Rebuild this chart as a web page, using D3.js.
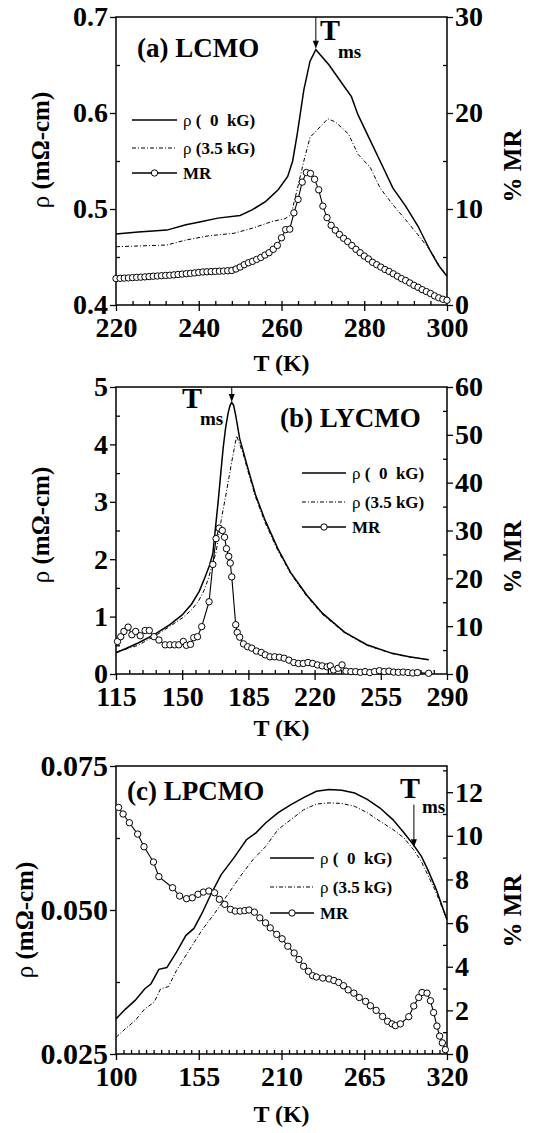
<!DOCTYPE html>
<html lang="en">
<head>
<meta charset="UTF-8">
<title>Resistivity and MR vs T</title>
<script src="https://d3js.org/d3.v7.min.js"></script>
<style>
  body { margin: 0; background: #fff; }
  svg text { font-family: "Liberation Serif", "Times New Roman", serif; font-weight: bold; fill: #000; }
</style>
</head>
<body>
<div id="chart"></div>
<script>
// ---- panel (a) LCMO ----
const aT0 = [220, 225.4, 232.3, 236.9, 240.8, 244.6, 250, 253, 256.2, 259.2, 261.5, 262.7, 263.8, 265.4, 266.9, 268.3, 271.5, 274.6, 276.9, 278.5, 281.5, 284.6, 286.9, 290, 293, 296, 298, 300];
const aRho0 = [0.474, 0.476, 0.478, 0.4835, 0.487, 0.4905, 0.4933, 0.4993, 0.508, 0.520, 0.534, 0.550, 0.578, 0.624, 0.654, 0.666, 0.650, 0.631, 0.617, 0.598, 0.571, 0.543, 0.522, 0.503, 0.482, 0.456, 0.441, 0.430];
const aT35 = [220, 232.3, 236.9, 242.3, 248.5, 253, 257.7, 260.8, 262.3, 263.8, 265.4, 266.9, 268.5, 271.2, 273.1, 276.2, 278.5, 281.5, 283.8, 286.9, 290, 293, 296.2, 298, 300];
const aRho35 = [0.4607, 0.4625, 0.4677, 0.472, 0.4747, 0.480, 0.487, 0.4898, 0.494, 0.5204, 0.550, 0.5747, 0.5817, 0.594, 0.5905, 0.578, 0.557, 0.543, 0.522, 0.5046, 0.4888, 0.473, 0.4554, 0.442, 0.430];
const aTmr = d3.range(220, 301, 1);
const aMR = [2.75, 2.78, 2.8, 2.82, 2.85, 2.88, 2.9, 2.93, 2.96, 3.0, 3.02, 3.05, 3.08, 3.1, 3.14, 3.18, 3.22, 3.26, 3.3, 3.34,
  3.4, 3.44, 3.46, 3.48, 3.5, 3.52, 3.54, 3.57, 3.6, 3.75, 3.95, 4.2, 4.4, 4.55, 4.75, 4.95, 5.2, 5.45, 5.8, 6.2,
  7.0, 7.85, 7.9, 9.6, 11.0, 12.8, 13.8, 13.7, 13.1, 12.0, 10.3, 9.1, 8.3, 7.8, 7.35, 6.95, 6.6, 6.2, 5.8, 5.45,
  5.1, 4.8, 4.45, 4.2, 3.95, 3.7, 3.5, 3.25, 3.0, 2.75, 2.55, 2.3, 2.05, 1.85, 1.6, 1.4, 1.2, 0.95, 0.75, 0.6, 0.5];
const aXTicks = [220, 240, 260, 280, 300];
const aYTicks = [0.4, 0.5, 0.6, 0.7];
const aRTicks = [0, 10, 20, 30];

// ---- panel (b) LYCMO ----
const bT0 = [115, 120, 126.7, 135, 143.5, 150, 155, 159, 162, 164.5, 166.2, 167.6, 169, 170.4, 171.7, 173, 174.3, 175.3, 176.2, 177.2, 178.3, 180.4, 184.6, 188.8, 193.8, 200.6, 207.3, 215.7, 224.1, 235.8, 247.6, 261, 270, 280.3];
const bRho0 = [0.37, 0.44, 0.54, 0.68, 0.86, 1.03, 1.22, 1.44, 1.68, 1.9, 2.1, 2.55, 3.0, 3.5, 3.95, 4.3, 4.55, 4.68, 4.73, 4.68, 4.5, 4.1, 3.6, 3.12, 2.68, 2.18, 1.77, 1.38, 1.06, 0.73, 0.51, 0.36, 0.3, 0.25];
const bT35 = [115, 126.7, 135.1, 143.5, 150.2, 155, 158.6, 161.5, 163.7, 165.9, 167.9, 170.4, 173.7, 176.2, 178.8, 180.4, 182.1, 184.6, 188.8, 193.8, 200.6, 207.3, 215.7, 224.1, 235.8, 247.6, 261, 270, 280.3];
const bRho35 = [0.38, 0.5, 0.655, 0.83, 0.98, 1.12, 1.27, 1.45, 1.65, 1.9, 2.12, 2.64, 3.23, 3.7, 4.15, 4.0, 3.85, 3.55, 3.08, 2.64, 2.15, 1.75, 1.36, 1.04, 0.72, 0.5, 0.355, 0.295, 0.25];
const bTmr = [115.8, 117.5, 119.2, 121.4, 123.4, 125.4, 127.8, 130.4, 132.6, 135.1, 137.7, 141, 143.5, 146, 148.2, 150.6, 152.2, 154.4, 156.1, 158.1, 160.3, 164.2, 166.2, 167.9, 169.5, 171.2, 172.4, 173.4, 174.6, 175.4, 176.2, 178.3, 179.1, 180.4, 182.4, 184.6, 186.8, 189.2, 191.8, 193.9, 196.4, 198.9, 201.4, 203.9, 206.4, 209, 211.5, 214, 216.5, 219, 221.5, 224, 226.6, 228.3, 230, 232.4, 234.5, 236.6, 239.2, 241.7, 244.2, 246.7, 249.2, 251.7, 254.3, 256.8, 259.3, 261.8, 264.3, 266.8, 269.4, 271.9, 274.4, 280.3];
const bMR = [6.8, 7.8, 8.9, 9.8, 8.2, 8.9, 8.0, 9.1, 9.1, 7.8, 7.1, 6.1, 6.1, 6.1, 6.1, 6.8, 6.0, 6.2, 7.6, 7.8, 9.9, 15.1, 22.9, 28.3, 30.5, 30.0, 28.6, 26.2, 24.6, 23.2, 20.3, 10.3, 8.7, 7.7, 6.3, 5.7, 5.4, 4.8, 4.5, 4.0, 3.6, 3.6, 3.5, 3.3, 2.9, 2.4, 2.2, 2.2, 2.4, 2.2, 1.9, 1.7, 1.5, 1.7, 0.84, 1.2, 1.9, 0.6, 0.5, 0.5, 0.35, 0.5, 0.3, 0.5, 0.7, 0.5, 0.6, 0.4, 0.35, 0.4, 0.3, 0.2, 0.3, 0.15];
const bXTicks = [115, 150, 185, 220, 255, 290];
const bYTicks = [0, 1, 2, 3, 4, 5];
const bRTicks = [0, 10, 20, 30, 40, 50, 60];

// ---- panel (c) LPCMO ----
const cT0 = [100, 106.3, 112.7, 119, 123.3, 128.5, 133.8, 140.2, 146.5, 151.8, 157.1, 163.4, 169.8, 178.2, 186.7, 193, 199.4, 207.8, 216.3, 224.7, 233.2, 241.6, 250.1, 258.6, 267, 275.5, 284, 291.4, 297.7, 303, 307.2, 312.5, 320];
const cRho0 = [0.0311, 0.0328, 0.0343, 0.0363, 0.0372, 0.0397, 0.0400, 0.0427, 0.0456, 0.0468, 0.0494, 0.0529, 0.0561, 0.0590, 0.0622, 0.0634, 0.0651, 0.0669, 0.0683, 0.0695, 0.0706, 0.0709, 0.0708, 0.0703, 0.0692, 0.0677, 0.0657, 0.0634, 0.0613, 0.0593, 0.0570, 0.0538, 0.0483];
const cT35 = [100, 106.3, 112.7, 119, 125.4, 129.6, 134.9, 140.2, 148.6, 157.1, 165.5, 174, 182.5, 190.9, 199.4, 207.8, 216.3, 224.7, 233.2, 241.6, 250.1, 258.6, 267, 275.5, 284, 291.4, 297.7, 303, 307.2, 312.5, 320];
const cRho35 = [0.0279, 0.0294, 0.0308, 0.0328, 0.0340, 0.0363, 0.0367, 0.0395, 0.0430, 0.0465, 0.0494, 0.0526, 0.0558, 0.0587, 0.0610, 0.0640, 0.0657, 0.0674, 0.0684, 0.0686, 0.0685, 0.0680, 0.0669, 0.0654, 0.0640, 0.0625, 0.0605, 0.0584, 0.0561, 0.0532, 0.0483];
const cTmr = [101.7, 104.7, 108.9, 114.4, 118.6, 124.9, 128.5, 137.6, 142.3, 146.9, 150.7, 154.5, 158.1, 161.7, 165.5, 168.7, 172.3, 176.1, 179.3, 182.5, 185.6, 188.4, 192, 195.6, 199.4, 202.5, 206.8, 210.4, 214.2, 218.4, 221.6, 224.7, 227.9, 230.7, 233.2, 237.4, 241.6, 244.8, 248, 251.2, 254.3, 258.1, 261.7, 265.9, 269.1, 272.9, 277.2, 280.5, 283.5, 285.7, 289, 294.6, 297.9, 301.2, 303.4, 306.7, 309, 311.1, 313.3, 315.1, 316.9, 318.9];
const cMR = [11.3, 11.0, 10.6, 10.08, 9.5, 8.8, 8.13, 7.62, 7.24, 7.12, 7.16, 7.32, 7.42, 7.47, 7.39, 7.09, 6.86, 6.63, 6.55, 6.55, 6.57, 6.6, 6.5, 6.24, 6.01, 5.78, 5.48, 5.28, 4.94, 4.63, 4.33, 4.02, 3.79, 3.59, 3.53, 3.48, 3.44, 3.37, 3.28, 3.13, 2.94, 2.79, 2.59, 2.41, 2.21, 2.0, 1.72, 1.5, 1.38, 1.3, 1.38, 1.71, 2.2, 2.59, 2.82, 2.79, 2.44, 1.9, 1.28, 0.82, 0.51, 0.2];
const cXTicks = [100, 155, 210, 265, 320];
const cYTicks = [0.025, 0.050, 0.075];
const cRTicks = [0, 2, 4, 6, 8, 10, 12];

const legendNames = ["(  0  kG)", "(3.5 kG)", "MR"];

const W = 546, H = 1133;
const LEFT = 116, RIGHT = 447;

const svg = d3.select("#chart").append("svg")
  .attr("width", W)
  .attr("height", H);

const panels = [
  {
    top: 17, bottom: 305, label: "(a) LCMO", labelX: 137, labelY: 57,
    xDom: [220, 300], xTicks: aXTicks, xMinor: d3.range(224, 300, 4),
    yDom: [0.4, 0.7], yTicks: aYTicks, yMinor: [0.45, 0.55, 0.65], yFmt: d3.format(".1f"), yFont: 28,
    rDom: [0, 30], rTicks: aRTicks, rMinor: [5, 15, 25],
    T0: aT0, rho0: aRho0, T35: aT35, rho35: aRho35, Tmr: aTmr, mr: aMR,
    legX: 132, legTextX: 183, legY: [120, 148, 173],
    arrow: { T: 268.3, from: 0.7, to: 0.667 }, tX: 320, tY: 40, msX: 338, msY: 58,
    titleY: 371, leftX: 49, leftMid: 150, rightMid: 166
  },
  {
    top: 387, bottom: 674, label: "(b) LYCMO", labelX: 280, labelY: 427,
    xDom: [115, 290], xTicks: bXTicks, xMinor: d3.range(122, 290, 7),
    yDom: [0, 5], yTicks: bYTicks, yMinor: [0.5, 1.5, 2.5, 3.5, 4.5], yFmt: d3.format("d"), yFont: 28,
    rDom: [0, 60], rTicks: bRTicks, rMinor: [5, 15, 25, 35, 45, 55],
    T0: bT0, rho0: bRho0, T35: bT35, rho35: bRho35, Tmr: bTmr, mr: bMR,
    legX: 302, legTextX: 352, legY: [473, 502, 527],
    arrow: { T: 176.2, from: 5, to: 4.74 }, tX: 182, tY: 408, msX: 200, msY: 425,
    titleY: 736, leftX: 49, leftMid: 525, rightMid: 557
  },
  {
    top: 766, bottom: 1054, label: "(c) LPCMO", labelX: 127, labelY: 800,
    xDom: [100, 320], xTicks: cXTicks, xMinor: d3.range(105, 320, 5),
    yDom: [0.025, 0.075], yTicks: cYTicks, yMinor: [0.0375, 0.0625], yFmt: d3.format(".3f"), yFont: 30,
    rDom: [0, 13.2], rTicks: cRTicks, rMinor: [1, 3, 5, 7, 9, 11, 13],
    T0: cT0, rho0: cRho0, T35: cT35, rho35: cRho35, Tmr: cTmr, mr: cMR,
    legX: 270, legTextX: 320, legY: [858, 887, 913],
    arrow: { T: 298, from: 0.0683, to: 0.0609 }, tX: 400, tY: 798, msX: 422, msY: 813,
    titleY: 1122, leftX: 33, leftMid: 920, rightMid: 911
  }
];

function styleAxis(g, size) {
  g.attr("font-family", null).attr("font-size", null);
  g.select(".domain").remove();
  g.selectAll(".tick line").attr("stroke", "#000").attr("stroke-width", 1.3);
  g.selectAll(".tick text").attr("font-size", size || 28);
}

function arrowHead(g, x, yTip) {
  g.append("path")
    .attr("d", `M${x},${yTip} L${x - 3},${yTip - 8} L${x + 3},${yTip - 8} Z`)
    .attr("fill", "#000");
}

function drawPanel(p) {
  const x = d3.scaleLinear().domain(p.xDom).range([LEFT, RIGHT]);
  const y = d3.scaleLinear().domain(p.yDom).range([p.bottom, p.top]);
  const yr = d3.scaleLinear().domain(p.rDom).range([p.bottom, p.top]);
  const g = svg.append("g");

  // minor ticks point inward
  g.append("g").attr("transform", `translate(0,${p.bottom})`)
    .call(d3.axisBottom(x).tickValues(p.xMinor).tickSize(-4).tickFormat(""))
    .call(styleAxis);
  g.append("g").attr("transform", `translate(${LEFT},0)`)
    .call(d3.axisLeft(y).tickValues(p.yMinor).tickSize(-4).tickFormat(""))
    .call(styleAxis);
  g.append("g").attr("transform", `translate(${RIGHT},0)`)
    .call(d3.axisRight(yr).tickValues(p.rMinor).tickSize(-4).tickFormat(""))
    .call(styleAxis);

  // major ticks point outward
  g.append("g").attr("transform", `translate(0,${p.bottom})`)
    .call(d3.axisBottom(x).tickValues(p.xTicks).tickSize(6).tickPadding(6).tickFormat(d3.format("d")))
    .call(styleAxis, 28);
  g.append("g").attr("transform", `translate(${LEFT},0)`)
    .call(d3.axisLeft(y).tickValues(p.yTicks).tickSize(6).tickPadding(2).tickFormat(p.yFmt))
    .call(styleAxis, p.yFont);
  g.append("g").attr("transform", `translate(${RIGHT},0)`)
    .call(d3.axisRight(yr).tickValues(p.rTicks).tickSize(6).tickPadding(2).tickFormat(d3.format("d")))
    .call(styleAxis, 28);

  g.append("rect")
    .attr("x", LEFT).attr("y", p.top)
    .attr("width", RIGHT - LEFT).attr("height", p.bottom - p.top)
    .attr("fill", "none").attr("stroke", "#000").attr("stroke-width", 1.5);

  // curves
  const lineL = d3.line().x(d => x(d[0])).y(d => y(d[1]));
  const lineR = d3.line().x(d => x(d[0])).y(d => yr(d[1]));

  g.append("path").datum(d3.zip(p.T35, p.rho35))
    .attr("d", lineL).attr("fill", "none").attr("stroke", "#000")
    .attr("stroke-width", 1).attr("stroke-dasharray", "4,2,1,2");
  g.append("path").datum(d3.zip(p.T0, p.rho0))
    .attr("d", lineL).attr("fill", "none").attr("stroke", "#000")
    .attr("stroke-width", 1.5);

  const mrData = d3.zip(p.Tmr, p.mr);
  g.append("path").datum(mrData)
    .attr("d", lineR).attr("fill", "none").attr("stroke", "#000")
    .attr("stroke-width", 1.1);
  g.append("g").selectAll("circle")
    .data(mrData)
    .enter().append("circle")
    .attr("cx", d => x(d[0]))
    .attr("cy", d => yr(d[1]))
    .attr("r", 3.2)
    .attr("fill", "#fff")
    .attr("stroke", "#000")
    .attr("stroke-width", 1);

  // legend
  const lx0 = p.legX, lx1 = p.legTextX - 6;
  p.legY.forEach((ly, i) => {
    const ln = g.append("line")
      .attr("x1", lx0).attr("x2", lx1).attr("y1", ly).attr("y2", ly)
      .attr("stroke", "#000").attr("stroke-width", i === 1 ? 1 : 1.4);
    if (i === 1) ln.attr("stroke-dasharray", "4,2,1,2");
    if (i === 2) {
      g.append("circle").attr("cx", (lx0 + lx1) / 2).attr("cy", ly).attr("r", 3.2)
        .attr("fill", "#fff").attr("stroke", "#000");
    }
    const t = g.append("text")
      .attr("x", p.legTextX).attr("y", ly + 6)
      .attr("font-size", 17)
      .style("white-space", "pre");
    if (i < 2) {
      t.append("tspan").style("font-weight", "normal").text("ρ ");
    }
    t.append("tspan").text(legendNames[i]);
  });

  // panel label
  g.append("text").attr("x", p.labelX).attr("y", p.labelY)
    .attr("font-size", 27).text(p.label);

  // T_ms annotation
  const ax = x(p.arrow.T);
  const yTip = y(p.arrow.to);
  g.append("line").attr("x1", ax).attr("x2", ax)
    .attr("y1", y(p.arrow.from)).attr("y2", yTip - 4)
    .attr("stroke", "#000").attr("stroke-width", 1);
  arrowHead(g, ax, yTip);
  g.append("text").attr("x", p.tX).attr("y", p.tY).attr("font-size", 30).text("T");
  g.append("text").attr("x", p.msX).attr("y", p.msY).attr("font-size", 19).text("ms");

  // axis titles
  g.append("text").attr("x", (LEFT + RIGHT) / 2).attr("y", p.titleY)
    .attr("text-anchor", "middle").attr("font-size", 24).text("T (K)");
  const lt = g.append("text")
    .attr("transform", `translate(${p.leftX},${p.leftMid}) rotate(-90)`)
    .attr("text-anchor", "middle").attr("font-size", 25);
  lt.append("tspan").style("font-weight", "normal").text("ρ");
  lt.append("tspan").text(" (mΩ-cm)");
  g.append("text")
    .attr("transform", `translate(521,${p.rightMid}) rotate(-90)`)
    .attr("text-anchor", "middle").attr("font-size", 25).text("% MR");
}

panels.forEach(drawPanel);
</script>
</body>
</html>
